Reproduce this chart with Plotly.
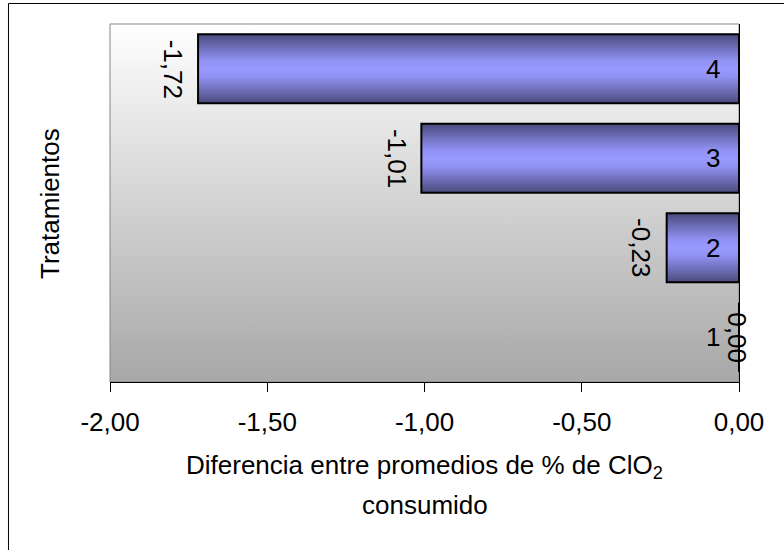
import base64
import plotly.graph_objects as go

# Treatment differences (mean % ClO2 consumed, relative to treatment 1)
tratamientos = [1, 2, 3, 4]
diferencias = [0.00, -0.23, -1.01, -1.72]

# X axis ticks
x_ticks = [-2.0, -1.5, -1.0, -0.5, 0.0]
x_tick_labels = ["-2,00", "-1,50", "-1,00", "-0,50", "0,00"]

FONT = "Liberation Sans, Arial, sans-serif"
FS = 26
HALF = 0.385  # half bar thickness in category units

BAR_SCALE = [
    [0.0, "#4a4a7c"], [0.18, "#6c6cb5"], [0.38, "#9191f3"],
    [0.5, "#9999ff"], [0.62, "#9191f3"], [0.82, "#6c6cb5"], [1.0, "#4a4a7c"],
]


def fmt(v):
    return f"{v:.2f}".replace(".", ",")


fig = go.Figure()

for cat, val in zip(tratamientos, diferencias):
    lo, hi = cat - HALF, cat + HALF
    fig.add_trace(go.Scatter(
        x=[0, val, val, 0, 0],
        y=[lo, lo, hi, hi, lo],
        mode="lines",
        fill="toself",
        fillgradient=dict(type="vertical", colorscale=BAR_SCALE, start=lo, stop=hi),
        line=dict(color="black", width=2),
        hoverinfo="skip",
        showlegend=False,
    ))

annotations = []
for cat, val in zip(tratamientos, diferencias):
    # value label, rotated, just outside the bar end
    if val == 0:
        annotations.append(dict(x=val, y=cat, xref="x", yref="y", text=fmt(val),
                                textangle=90, showarrow=False, xanchor="center",
                                xshift=-2, font=dict(family=FONT, size=FS, color="black")))
    else:
        annotations.append(dict(x=val, y=cat, xref="x", yref="y", text=fmt(val),
                                textangle=90, showarrow=False, xanchor="right",
                                xshift=-8, font=dict(family=FONT, size=FS, color="black")))
    # category label next to the vertical axis
    annotations.append(dict(x=0, y=cat, xref="x", yref="y", text=str(cat),
                            showarrow=False, xanchor="right", xshift=-17,
                            font=dict(family=FONT, size=FS, color="black")))

# axis titles
annotations.append(dict(x=-0.0954, y=0.5, xref="paper", yref="paper", text="Tratamientos",
                        textangle=-90, showarrow=False, xanchor="center", yanchor="middle",
                        font=dict(family=FONT, size=FS, color="black")))
annotations.append(dict(x=0.5, y=-0.2374, xref="paper", yref="paper",
                        text="Diferencia entre promedios de % de ClO<sub>2</sub>",
                        showarrow=False, xanchor="center", yanchor="middle",
                        font=dict(family=FONT, size=FS, color="black")))
annotations.append(dict(x=0.5, y=-0.3436, xref="paper", yref="paper", text="consumido",
                        showarrow=False, xanchor="center", yanchor="middle",
                        font=dict(family=FONT, size=FS, color="black")))

# plot-area background: white at the top fading to grey at the bottom
svg = (
    '<svg xmlns="http://www.w3.org/2000/svg" width="100" height="100" preserveAspectRatio="none">'
    '<defs><linearGradient id="g" x1="0" y1="0" x2="0" y2="1">'
    '<stop offset="0" stop-color="#ffffff"/><stop offset="1" stop-color="#a7a7a7"/>'
    '</linearGradient></defs><rect width="100" height="100" fill="url(#g)"/></svg>'
)
bg_uri = "data:image/svg+xml;base64," + base64.b64encode(svg.encode()).decode()

fig.update_layout(
    width=784, height=550, autosize=False,
    margin=dict(l=110, r=45, t=24, b=168, pad=0),
    paper_bgcolor="white", plot_bgcolor="rgba(0,0,0,0)",
    separators=",.",
    font=dict(family=FONT, size=FS, color="black"),
    images=[dict(source=bg_uri, xref="paper", yref="paper", x=0, y=1, sizex=1, sizey=1,
                 sizing="stretch", xanchor="left", yanchor="top", layer="below")],
    shapes=[
        # plot-area frame
        dict(type="rect", xref="paper", yref="paper", x0=0, y0=0, x1=1, y1=1,
             line=dict(color="#858585", width=1), layer="below"),
        # chart-area border (top and left edges)
        dict(type="path", xref="paper", yref="paper",
             path="M -0.1614,-1 L -0.1614,1.0573 L 1.2,1.0573",
             line=dict(color="black", width=1)),
    ],
    annotations=annotations,
    xaxis=dict(range=[-2, 0], tickvals=x_ticks, ticktext=x_tick_labels,
               ticks="outside", ticklen=9, tickwidth=1, tickcolor="black",
               ticklabelstandoff=8,
               showline=True, linecolor="black", linewidth=1,
               showgrid=False, zeroline=False,
               tickfont=dict(family=FONT, size=FS, color="black"), fixedrange=True),
    yaxis=dict(range=[0.5, 4.5], side="right", showline=True, linecolor="black", linewidth=1,
               showticklabels=False, ticks="", showgrid=False, zeroline=False, fixedrange=True),
)

fig.write_html("out.html")
